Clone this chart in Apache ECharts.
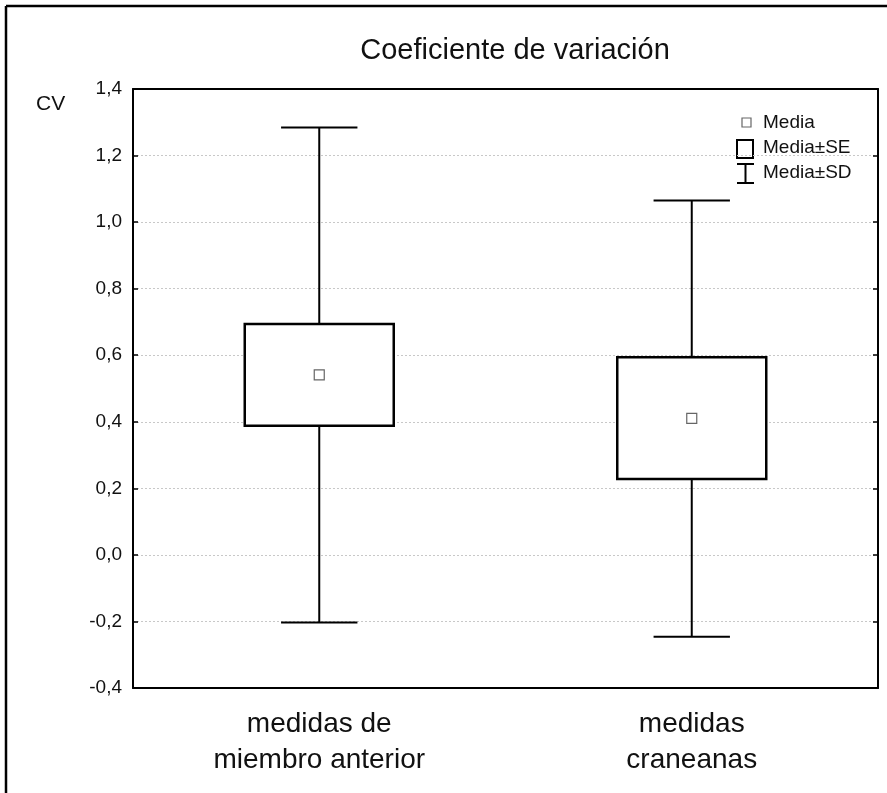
<!DOCTYPE html>
<html>
<head>
<meta charset="utf-8">
<script src="https://cdn.jsdelivr.net/npm/echarts@6/dist/echarts.min.js"></script>
<style>
  html, body { margin: 0; padding: 0; background: #fff; }
  #chart { width: 887px; height: 793px; }
</style>
</head>
<body>
<div id="chart"></div>
<script>
var categories = ['medidas de\nmiembro anterior', 'medidas\ncraneanas'];
var means = [0.541, 0.410];
var seLow = [0.388, 0.228];
var seHigh = [0.694, 0.594];
var sdLow = [-0.203, -0.246];
var sdHigh = [1.284, 1.065];
var yTicks = { min: -0.4, max: 1.4, step: 0.2 };

var boxData = categories.map(function (c, i) {
    return [i, means[i], seLow[i], seHigh[i], sdLow[i], sdHigh[i]];
});

function fmt(v) {
    return v.toFixed(1).replace('.', ',');
}

var chart = echarts.init(document.getElementById('chart'));

var font = 'Liberation Sans, Arial, sans-serif';

var option = {
    animation: false,
    backgroundColor: '#fff',
    title: {
        text: 'Coeficiente de variación',
        left: 510,
        textAlign: 'center',
        top: 31,
        textStyle: { color: '#111', fontSize: 29, fontWeight: 'normal', fontFamily: font }
    },
    grid: { left: 133, right: 9, top: 89, bottom: 105 },
    xAxis: [
        {
            type: 'category',
            data: categories,
            position: 'bottom',
            axisLine: { onZero: false, lineStyle: { color: '#000', width: 2 } },
            axisTick: { inside: true, alignWithLabel: true, length: 5, lineStyle: { color: '#000', width: 1.5 } },
            axisLabel: { color: '#111', fontSize: 28, fontFamily: font, lineHeight: 36, margin: 18 }
        },
        {
            type: 'category',
            data: categories,
            position: 'top',
            axisLine: { onZero: false, lineStyle: { color: '#000', width: 2 } },
            axisTick: { inside: true, alignWithLabel: true, length: 5, lineStyle: { color: '#000', width: 1.5 } },
            axisLabel: { show: false }
        }
    ],
    yAxis: [
        {
            type: 'value',
            min: yTicks.min,
            max: yTicks.max,
            interval: yTicks.step,
            position: 'left',
            axisLine: { show: true, onZero: false, lineStyle: { color: '#000', width: 2 } },
            axisTick: { show: true, inside: true, length: 5, lineStyle: { color: '#000', width: 1.5 } },
            axisLabel: { color: '#111', fontSize: 19, fontFamily: font, margin: 11, formatter: fmt },
            splitLine: { show: true, lineStyle: { type: [2, 2], color: '#c8c8c8', width: 1 } }
        },
        {
            type: 'value',
            min: yTicks.min,
            max: yTicks.max,
            interval: yTicks.step,
            position: 'right',
            axisLine: { show: true, onZero: false, lineStyle: { color: '#000', width: 2 } },
            axisTick: { show: true, inside: true, length: 5, lineStyle: { color: '#000', width: 1.5 } },
            axisLabel: { show: false },
            splitLine: { show: false }
        }
    ],
    series: [
        {
            type: 'custom',
            xAxisIndex: 0,
            yAxisIndex: 0,
            data: boxData,
            z: 5,
            renderItem: function (params, api) {
                var x = api.coord([api.value(0), 0])[0];
                var band = api.size([1, 0])[0];
                var boxW = band * 0.4;
                var capW = band * 0.205;
                var yMean = api.coord([api.value(0), api.value(1)])[1];
                var ySeLo = api.coord([api.value(0), api.value(2)])[1];
                var ySeHi = api.coord([api.value(0), api.value(3)])[1];
                var ySdLo = api.coord([api.value(0), api.value(4)])[1];
                var ySdHi = api.coord([api.value(0), api.value(5)])[1];
                var stroke = { stroke: '#000', lineWidth: 2 };
                return {
                    type: 'group',
                    children: [
                        { type: 'line', shape: { x1: x, y1: ySdHi, x2: x, y2: ySdLo }, style: stroke },
                        { type: 'line', shape: { x1: x - capW / 2, y1: ySdHi, x2: x + capW / 2, y2: ySdHi }, style: stroke },
                        { type: 'line', shape: { x1: x - capW / 2, y1: ySdLo, x2: x + capW / 2, y2: ySdLo }, style: stroke },
                        {
                            type: 'rect',
                            shape: { x: x - boxW / 2, y: ySeHi, width: boxW, height: ySeLo - ySeHi },
                            style: { fill: '#fff', stroke: '#000', lineWidth: 2.5 }
                        },
                        {
                            type: 'rect',
                            shape: { x: x - 5, y: yMean - 5, width: 10, height: 10 },
                            style: { fill: '#fff', stroke: '#666', lineWidth: 1.2 }
                        }
                    ]
                };
            }
        }
    ],
    graphic: [
        // outer frame (only top and left edges fall inside the picture)
        { type: 'line', shape: { x1: 6, y1: 6, x2: 887, y2: 6 }, style: { stroke: '#000', lineWidth: 2.5 } },
        { type: 'line', shape: { x1: 6, y1: 6, x2: 6, y2: 793 }, style: { stroke: '#000', lineWidth: 2.5 } },
        {
            type: 'text', left: 36, top: 94,
            style: { text: 'CV', fill: '#111', fontSize: 21, fontFamily: font }
        },
        // legend
        { type: 'rect', shape: { x: 742, y: 118, width: 9, height: 9 }, style: { fill: '#fff', stroke: '#666', lineWidth: 1.2 } },
        { type: 'text', left: 763, top: 113, style: { text: 'Media', fill: '#111', fontSize: 19, fontFamily: font } },
        { type: 'rect', shape: { x: 737, y: 140, width: 16, height: 18 }, style: { fill: '#fff', stroke: '#000', lineWidth: 2 } },
        { type: 'text', left: 763, top: 138, style: { text: 'Media±SE', fill: '#111', fontSize: 19, fontFamily: font } },
        { type: 'line', shape: { x1: 737, y1: 164, x2: 754, y2: 164 }, style: { stroke: '#000', lineWidth: 2 } },
        { type: 'line', shape: { x1: 745.5, y1: 164, x2: 745.5, y2: 183 }, style: { stroke: '#000', lineWidth: 2 } },
        { type: 'line', shape: { x1: 737, y1: 183, x2: 754, y2: 183 }, style: { stroke: '#000', lineWidth: 2 } },
        { type: 'text', left: 763, top: 163, style: { text: 'Media±SD', fill: '#111', fontSize: 19, fontFamily: font } }
    ]
};

chart.setOption(option);
</script>
</body>
</html>
